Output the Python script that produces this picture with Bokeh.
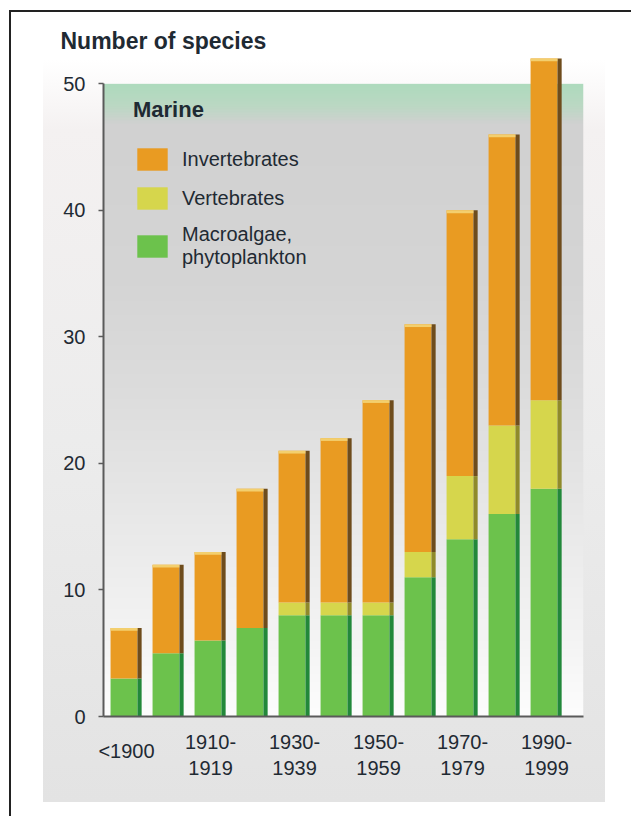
import numpy as np
from bokeh.plotting import figure
from bokeh.models import (ColumnDataSource, Range1d, FixedTicker, LinearAxis,
                          Legend, LegendItem)
from bokeh.embed import file_html
from bokeh.resources import INLINE

# --- data: number of introduced marine species per period -------------------
periods = ["<1900", "1900-1909", "1910-1919", "1920-1929", "1930-1939", "1940-1949",
           "1950-1959", "1960-1969", "1970-1979", "1980-1989", "1990-1999"]
macroalgae = [3, 5, 6, 7, 8, 8, 8, 11, 14, 16, 18]
vertebrates = [0, 0, 0, 0, 1, 1, 1, 2, 5, 7, 7]
invertebrates = [4, 7, 7, 11, 12, 13, 16, 18, 21, 23, 27]
y_ticks = [0, 10, 20, 30, 40, 50]
labelled_periods = [0, 2, 4, 6, 8, 10]

# --- styling ----------------------------------------------------------------
FONT = "'Liberation Sans', Arial, sans-serif"
TEXT = "#1f2a33"
AXIS = "#5a5a5a"
FRONT = {"macro": "#6cc24c", "vert": "#d6d64c", "inv": "#e99b22"}
SIDE = {"macro": "#22883a", "vert": "#8f8a2a", "inv": "#6e4c1c"}
FRONT_W, SIDE_W = 0.64, 0.10

pos = np.arange(len(periods), dtype=float)
totals = [a + b + c for a, b, c in zip(macroalgae, vertebrates, invertebrates)]
src = ColumnDataSource(dict(
    xf=pos - 0.06,            # front face of each bar
    xs=pos + 0.31,            # shaded side face
    macro=macroalgae, vert=vertebrates, inv=invertebrates,
    total=totals,
    cap=[t - 0.22 for t in totals],
))

X0, X1 = -0.548, 10.88
Y_TOP = 52.24

page_bg = ", ".join([
    "linear-gradient(#222222, #222222) 9px 10px / 2px 806px no-repeat",
    "linear-gradient(#222222, #222222) 9px 10px / 622px 2px no-repeat",
    "linear-gradient(to bottom, #ffffff 0px, #f4f1f1 70px, #ececec 380px, #e3e3e3 742px) "
    "43px 60px / 562px 742px no-repeat",
    "#ffffff",
])

p = figure(width=631, height=816, x_range=Range1d(X0, X1), y_range=Range1d(0, Y_TOP),
           output_backend="svg", toolbar_location=None,
           min_border_left=103, min_border_right=48, min_border_top=55, min_border_bottom=100,
           border_fill_color=None, background_fill_color=None, outline_line_color=None,
           styles={"background": page_bg})
p.grid.visible = False

# heading above the value axis
p.title.text = "Number of species"
p.title.align = "left"
p.title.offset = -43
p.title.standoff = 3
p.title.vertical_align = "bottom"
p.title.text_font = FONT
p.title.text_font_size = "23px"
p.title.text_font_style = "bold"
p.title.text_color = TEXT

# plot-area background: pale green band at the top fading through grey to white
stops_y = [0, 6, 16, 26, 34, 46.8, 48.2, 50]
stops_c = ["#fdfdfd", "#f4f4f4", "#e8e8e8", "#dcdcdc", "#d5d5d5", "#d1d1d1", "#bcd8c4", "#aedbbd"]
rows = 400
ys = np.linspace(0, 50, rows)
img = np.empty((rows, 1), dtype=np.uint32)
view = img.view(dtype=np.uint8).reshape((rows, 1, 4))
for k in range(3):
    chan = [int(c[1 + 2 * k:3 + 2 * k], 16) for c in stops_c]
    view[:, 0, k] = np.interp(ys, stops_y, chan).astype(np.uint8)
view[:, 0, 3] = 255
p.image_rgba(image=[img], x=X0, y=0, dw=X1 - X0, dh=50)

stack = ["macro", "vert", "inv"]
front = p.vbar_stack(stack, x="xf", width=FRONT_W, source=src,
                     fill_color=[FRONT[s] for s in stack], line_color=None)
p.vbar_stack(stack, x="xs", width=SIDE_W, source=src,
             fill_color=[SIDE[s] for s in stack], line_color=None)
# light top edge of each bar
p.vbar(x="xf", top="total", bottom="cap", width=FRONT_W, source=src,
       fill_color="#f3cf6e", line_color=None)

# y axis
ya = p.yaxis[0]
ya.ticker = FixedTicker(ticks=y_ticks)
ya.bounds = (0, 50)
ya.axis_line_color = AXIS
ya.axis_line_width = 2
ya.major_tick_out = 5
ya.major_tick_in = 0
ya.major_tick_line_color = AXIS
ya.major_tick_line_width = 1.5
ya.minor_tick_line_color = None
ya.major_label_standoff = 13
ya.major_label_text_font = FONT
ya.major_label_text_font_size = "20px"
ya.major_label_text_color = TEXT

# x axis: two-line decade labels
def two_lines(label):
    return label.replace("-", "-\n")

xa = p.xaxis[0]
xa.ticker = FixedTicker(ticks=labelled_periods[1:])
xa.major_label_overrides = {i: two_lines(periods[i]) for i in labelled_periods[1:]}
xa.axis_line_color = AXIS
xa.axis_line_width = 2
xa.major_tick_line_color = None
xa.minor_tick_line_color = None
xa.major_tick_out = 0
xa.major_tick_in = 0
xa.major_label_standoff = 14
xa.major_label_text_font = FONT
xa.major_label_text_font_size = "20px"
xa.major_label_text_color = TEXT

# single-line label for the first period, set between the two text lines
xa0 = LinearAxis(ticker=FixedTicker(ticks=labelled_periods[:1]),
                 major_label_overrides={labelled_periods[0]: periods[labelled_periods[0]]},
                 axis_line_color=None, major_tick_line_color=None, minor_tick_line_color=None,
                 major_tick_out=0, major_tick_in=0, major_label_standoff=-42,
                 major_label_text_font=FONT, major_label_text_font_size="20px",
                 major_label_text_color=TEXT)
p.add_layout(xa0, "below")

legend = Legend(
    items=[LegendItem(label="Invertebrates", renderers=[front[2]]),
           LegendItem(label="Vertebrates", renderers=[front[1]]),
           LegendItem(label="Macroalgae,\nphytoplankton", renderers=[front[0]])],
    title="Marine", location=(30, 447), orientation="vertical",
    background_fill_alpha=0, border_line_color=None, padding=0, margin=0,
    glyph_width=38, glyph_height=28, label_standoff=11, label_height=24,
    spacing=11, title_standoff=22,
    label_text_font=FONT, label_text_font_size="20px", label_text_color=TEXT,
    label_text_line_height=1.1,
    title_text_font=FONT, title_text_font_size="22px", title_text_font_style="bold",
    title_text_color=TEXT)
p.add_layout(legend)

open("out.html", "w").write(file_html(p, INLINE))
